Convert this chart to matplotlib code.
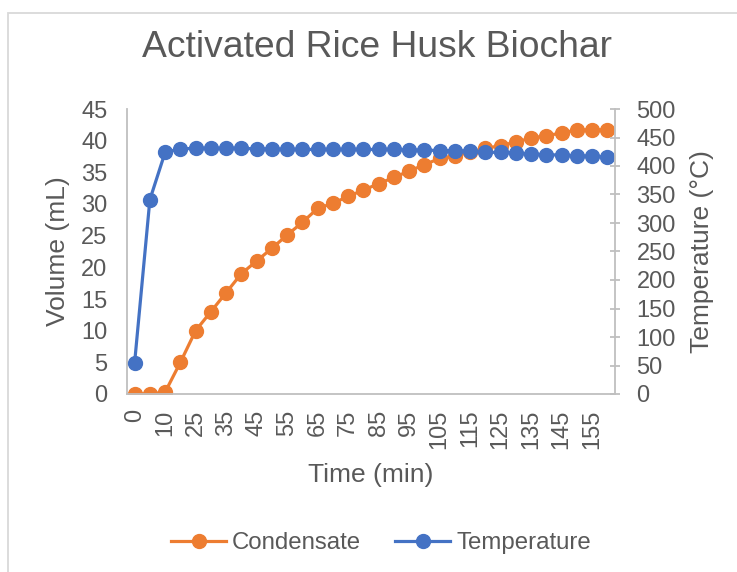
import matplotlib
matplotlib.use("Agg")
import matplotlib.pyplot as plt
from matplotlib.patches import Rectangle

plt.rcParams["font.family"] = ["Liberation Sans", "DejaVu Sans"]

# Sampling times (min) and measured series
time_min = [0, 5, 10, 20, 25, 30, 35, 40, 45, 50, 55, 60, 65, 70, 75, 80,
            85, 90, 95, 100, 105, 110, 115, 120, 125, 130, 135, 140, 145,
            150, 155, 160]
condensate_ml = [0, 0, 0.3, 5, 10, 13, 16, 19, 21, 23, 25.1, 27.1, 29.3,
                 30.1, 31.2, 32.2, 33.2, 34.2, 35.2, 36.2, 37.2, 37.6, 38.2,
                 38.8, 39.2, 39.8, 40.4, 40.8, 41.2, 41.7, 41.7, 41.7]
temperature_c = [55, 341, 424, 430, 431, 431, 431, 431, 430, 430, 429, 429,
                 429, 429, 429, 429, 429, 429, 428, 428, 427, 427, 426, 424,
                 424, 423, 421, 420, 419, 418, 417, 416]

ORANGE = "#ED7D31"
BLUE = "#4472C4"
TEXT = "#595959"
AXIS = "#BFBFBF"

fig = plt.figure(figsize=(7.37, 5.72), dpi=100)
ax = fig.add_axes([127 / 737, 1 - 394 / 572, 488 / 737, 285 / 572])
ax2 = ax.twinx()

x = list(range(len(time_min)))
l1, = ax.plot(x, condensate_ml, color=ORANGE, lw=2.3, marker="o",
              markersize=10, label="Condensate")
l2, = ax2.plot(x, temperature_c, color=BLUE, lw=2.3, marker="o",
               markersize=10, label="Temperature")

ax.set_xlim(-0.5, len(x) - 0.5)
ax.set_ylim(0, 45)
ax2.set_ylim(0, 500)
ax.set_yticks(range(0, 46, 5))
ax2.set_yticks(range(0, 501, 50))
ax.set_xticks(x[::2])
ax.set_xticklabels([str(t) for t in time_min[::2]], rotation=90)

for a in (ax, ax2):
    for s in a.spines.values():
        s.set_visible(False)
ax.spines["left"].set_visible(True)
ax.spines["bottom"].set_visible(True)
ax2.spines["right"].set_visible(True)
for s in (ax.spines["left"], ax.spines["bottom"], ax2.spines["right"]):
    s.set_color(AXIS)
    s.set_linewidth(1.3)

ax.tick_params(axis="x", length=0, pad=11, labelsize=17, labelcolor=TEXT)
ax.tick_params(axis="y", length=0, pad=14, labelsize=17, labelcolor=TEXT)
ax2.tick_params(axis="y", direction="inout", length=7, width=1.3, color=AXIS,
                pad=12, labelsize=17, labelcolor=TEXT)

ax.set_xlabel("Time (min)", fontsize=19, color=TEXT)
ax.set_ylabel("Volume (mL)", fontsize=19, color=TEXT)
ax2.set_ylabel("Temperature (\u00b0C)", fontsize=19, color=TEXT)
ax.xaxis.set_label_coords(0.5, -0.242)
ax.yaxis.set_label_coords(-0.117, 0.5)
ax2.yaxis.set_label_coords(1.154, 0.5)

fig.text(377 / 737, 1 - 57 / 572, "Activated Rice Husk Biochar",
         ha="center", va="baseline", fontsize=26.8, color=TEXT)

fig.legend(handles=[l1, l2], loc="center", bbox_to_anchor=(381 / 737, 0.05),
           ncol=2, frameon=False, fontsize=17.3, handlelength=2.3,
           handletextpad=0.25, columnspacing=1.4, labelcolor=TEXT)

# Chart-area border
fig.add_artist(Rectangle((8 / 737, -0.1), 1.2, 1.1 - 13 / 572,
                         transform=fig.transFigure, fill=False,
                         ec="#D9D9D9", lw=1.3))

fig.savefig("out.png", dpi=100)
